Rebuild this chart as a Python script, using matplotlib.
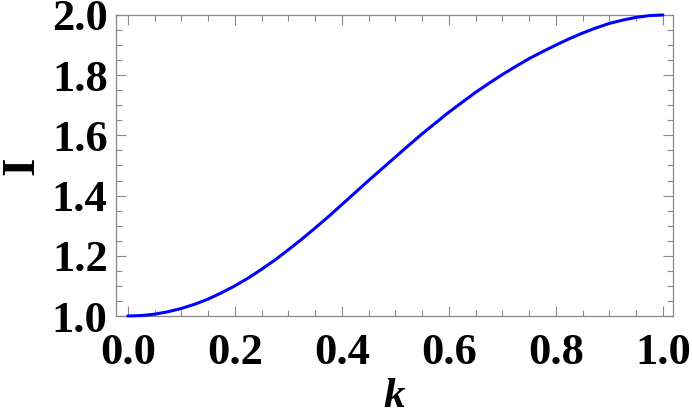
import matplotlib.pyplot as plt
from matplotlib.ticker import MultipleLocator

# values
k = [0.0, 0.025, 0.05, 0.075, 0.10, 0.125, 0.15, 0.175, 0.20, 0.225, 0.25,
     0.275, 0.30, 0.325, 0.35, 0.375, 0.40, 0.425, 0.45, 0.475, 0.50,
     0.525, 0.55, 0.575, 0.60, 0.625, 0.65, 0.675, 0.70, 0.725, 0.75,
     0.775, 0.80, 0.825, 0.85, 0.875, 0.90, 0.925, 0.95, 0.975, 1.0]
I = [1.000, 1.0015, 1.006, 1.014, 1.025, 1.039, 1.056, 1.077, 1.100, 1.126, 1.155,
     1.186, 1.220, 1.255, 1.292, 1.330, 1.370, 1.410, 1.450, 1.489, 1.528,
     1.567, 1.605, 1.641, 1.677, 1.710, 1.743, 1.773, 1.802, 1.829, 1.855,
     1.878, 1.900, 1.921, 1.940, 1.957, 1.972, 1.983, 1.992, 1.998, 2.000]
xticks = [0.0, 0.2, 0.4, 0.6, 0.8, 1.0]
yticks = [1.0, 1.2, 1.4, 1.6, 1.8, 2.0]

plt.rcParams['font.family'] = 'Liberation Serif'
plt.rcParams['font.weight'] = 'bold'

fig = plt.figure(figsize=(6.92, 4.15), dpi=100)
ax = fig.add_axes([116/692, 99/415, 557/692, 301/415])

ax.plot(k, I, color='#0000ff', lw=2.2, solid_capstyle='round', clip_on=False, zorder=3)

ax.set_xlim(-0.022, 1.019)
ax.set_ylim(1.0, 2.0)
ax.set_xticks(xticks)
ax.set_yticks(yticks)
ax.set_xticklabels(['%.1f' % v for v in xticks])
ax.set_yticklabels(['%.1f' % v for v in yticks])
ax.xaxis.set_minor_locator(MultipleLocator(0.05))
ax.yaxis.set_minor_locator(MultipleLocator(0.05))

frame = '#888888'
for s in ax.spines.values():
    s.set_color(frame)
    s.set_linewidth(0.9)
ax.tick_params(which='both', direction='in', top=True, right=True, colors=frame,
               labelcolor='black', width=0.8, labelsize=32)
ax.tick_params(which='major', length=7)
ax.tick_params(which='minor', length=4)
ax.tick_params(axis='x', which='major', pad=12)
ax.tick_params(axis='y', which='major', pad=6)

ax.set_xlabel('k', fontsize=31, fontweight='bold', style='italic', labelpad=4)
# y label placed by hand so it hugs the left edge like the reference
fig.text(0.002, 0.60, 'I', rotation=90, ha='left', va='center',
         fontsize=34, fontweight='bold')

fig.savefig('out.png', dpi=100)
